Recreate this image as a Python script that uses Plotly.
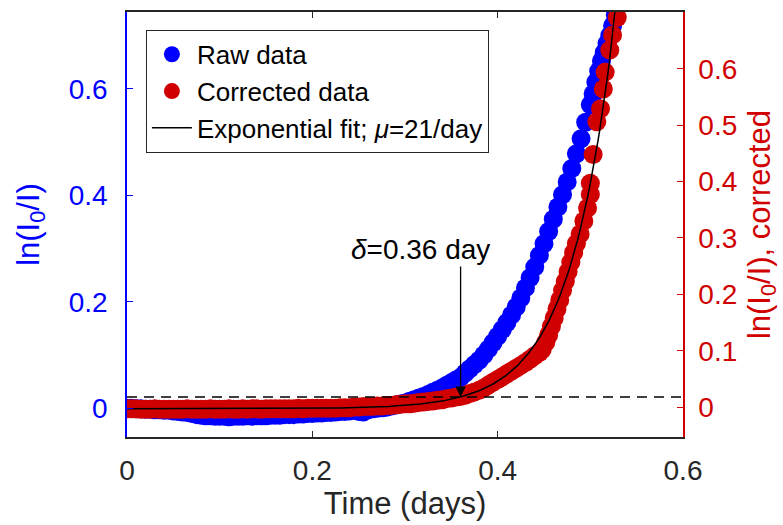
import plotly.graph_objects as go
import numpy as np

# ---------------- data ----------------
t_raw = [0.000, 0.005, 0.010, 0.015, 0.020, 0.025, 0.030, 0.035, 0.040, 0.045,
         0.050, 0.055, 0.060, 0.065, 0.070, 0.075, 0.080, 0.085, 0.090, 0.095,
         0.100, 0.105, 0.110, 0.115, 0.120, 0.125, 0.130, 0.135, 0.140, 0.145,
         0.150, 0.155, 0.160, 0.165, 0.170, 0.175, 0.180, 0.185, 0.190, 0.195,
         0.200, 0.205, 0.210, 0.215, 0.220, 0.225, 0.230, 0.235, 0.240, 0.245,
         0.250, 0.255, 0.260, 0.265, 0.270, 0.275, 0.280, 0.285, 0.290, 0.295,
         0.300, 0.305, 0.310, 0.315, 0.320, 0.325, 0.330, 0.335, 0.340, 0.345,
         0.350, 0.355, 0.360, 0.365, 0.370, 0.375, 0.380, 0.385, 0.390, 0.395,
         0.400, 0.405, 0.410, 0.415, 0.420, 0.425, 0.430, 0.435, 0.440, 0.445,
         0.450, 0.455, 0.460, 0.465, 0.470, 0.475, 0.480, 0.485, 0.490, 0.495,
         0.500, 0.503, 0.506, 0.509, 0.512, 0.515, 0.518, 0.521, 0.524, 0.527]
y_raw = [0.000, 0.000, -0.001, -0.001, -0.002, -0.002, -0.003, -0.003, -0.004, -0.004,
         -0.005, -0.006, -0.007, -0.008, -0.010, -0.012, -0.013, -0.014, -0.014, -0.015,
         -0.015, -0.015, -0.016, -0.015, -0.015, -0.015, -0.014, -0.015, -0.014, -0.014,
         -0.014, -0.013, -0.013, -0.013, -0.012, -0.012, -0.012, -0.011, -0.011, -0.010,
         -0.010, -0.009, -0.009, -0.008, -0.008, -0.007, -0.006, -0.006, -0.005, -0.004,
         -0.006, -0.007, -0.003, -0.001, 0.000, 0.001, 0.002, 0.004, 0.006, 0.008,
         0.010, 0.013, 0.016, 0.019, 0.022, 0.026, 0.030, 0.034, 0.038, 0.043,
         0.048, 0.053, 0.058, 0.066, 0.074, 0.082, 0.090, 0.100, 0.111, 0.123,
         0.135, 0.148, 0.161, 0.175, 0.190, 0.207, 0.226, 0.245, 0.265, 0.287,
         0.309, 0.332, 0.355, 0.378, 0.401, 0.425, 0.450, 0.478, 0.506, 0.537,
         0.570, 0.590, 0.612, 0.633, 0.652, 0.668, 0.685, 0.700, 0.718, 0.738]

t_cor = [0.000, 0.005, 0.010, 0.015, 0.020, 0.025, 0.030, 0.035, 0.040, 0.045,
         0.050, 0.055, 0.060, 0.065, 0.070, 0.075, 0.080, 0.085, 0.090, 0.095,
         0.100, 0.105, 0.110, 0.115, 0.120, 0.125, 0.130, 0.135, 0.140, 0.145,
         0.150, 0.155, 0.160, 0.165, 0.170, 0.175, 0.180, 0.185, 0.190, 0.195,
         0.200, 0.205, 0.210, 0.215, 0.220, 0.225, 0.230, 0.235, 0.240, 0.245,
         0.250, 0.255, 0.260, 0.265, 0.270, 0.275, 0.280, 0.285, 0.290, 0.295,
         0.300, 0.305, 0.310, 0.315, 0.320, 0.325, 0.330, 0.335, 0.340, 0.345,
         0.350, 0.355, 0.360, 0.365, 0.370, 0.375, 0.380, 0.385, 0.390, 0.395,
         0.400, 0.405, 0.410, 0.415, 0.420, 0.425, 0.430, 0.435, 0.440, 0.445,
         0.448, 0.452, 0.455, 0.458, 0.461, 0.464, 0.467, 0.470, 0.473, 0.476,
         0.479, 0.482, 0.485, 0.489, 0.493, 0.497, 0.500, 0.500, 0.503, 0.507,
         0.511, 0.514, 0.516, 0.521, 0.524, 0.529]
y_cor = [-0.003, -0.003, -0.003, -0.004, -0.004, -0.004, -0.003, -0.004, -0.004, -0.004,
         -0.004, -0.004, -0.004, -0.003, -0.004, -0.004, -0.004, -0.004, -0.003, -0.004,
         -0.004, -0.004, -0.003, -0.004, -0.004, -0.003, -0.004, -0.003, -0.003, -0.004,
         -0.003, -0.003, -0.003, -0.003, -0.003, -0.003, -0.003, -0.002, -0.003, -0.002,
         -0.002, -0.002, -0.002, -0.002, -0.002, -0.002, -0.001, -0.001, -0.001, 0.000,
         0.000, 0.001, 0.001, 0.001, 0.002, 0.002, 0.003, 0.003, 0.004, 0.005,
         0.006, 0.006, 0.007, 0.008, 0.009, 0.010, 0.011, 0.012, 0.013, 0.015,
         0.016, 0.018, 0.019, 0.021, 0.024, 0.027, 0.030, 0.034, 0.039, 0.044,
         0.049, 0.054, 0.059, 0.064, 0.069, 0.074, 0.079, 0.085, 0.091, 0.097,
         0.102, 0.115, 0.128, 0.143, 0.158, 0.174, 0.190, 0.207, 0.223, 0.240,
         0.257, 0.274, 0.290, 0.307, 0.330, 0.353, 0.377, 0.397, 0.448, 0.506,
         0.529, 0.564, 0.594, 0.633, 0.660, 0.691]

MU = 21.0          # growth rate of the exponential fit (1/day), from the legend
FIT_A = 1.1e-5     # fit amplitude
FIT_B = -0.003     # fit offset
DELTA = 0.36       # lag time (day)
THRESHOLD = 0.018  # dashed threshold level (corrected axis)

x_ticks = [0, 0.2, 0.4, 0.6]
y_ticks_left = [0, 0.2, 0.4, 0.6]
y_ticks_right = [0, 0.1, 0.2, 0.3, 0.4, 0.5, 0.6]

t_fit = np.linspace(0, 0.535, 300)
y_fit = FIT_A * np.exp(MU * t_fit) + FIT_B

BLUE = "#0000ff"
RED = "#d00000"
FONT = "Liberation Sans, Arial, sans-serif"

fig = go.Figure()
fig.add_trace(go.Scatter(x=t_raw, y=y_raw, mode="markers", name="Raw data",
                         marker=dict(color=BLUE, size=19, line=dict(width=0)),
                         yaxis="y"))
fig.add_trace(go.Scatter(x=t_cor, y=y_cor, mode="markers", name="Corrected data",
                         marker=dict(color=RED, size=19, line=dict(width=0)),
                         yaxis="y2"))
fig.add_trace(go.Scatter(x=t_fit, y=y_fit, mode="lines",
                         name="Exponential fit; <i>μ</i>=21/day",
                         line=dict(color="black", width=1.5), yaxis="y2"))
fig.add_trace(go.Scatter(x=[0, 0.6], y=[THRESHOLD, THRESHOLD], mode="lines",
                         showlegend=False,
                         line=dict(color="black", width=1.4, dash="10px,7px"),
                         yaxis="y2"))

fig.add_annotation(x=DELTA, y=THRESHOLD, xref="x", yref="y2", text="",
                   showarrow=True, ax=0, ay=-132, axref="pixel", ayref="pixel",
                   arrowhead=2, arrowsize=1.6, arrowwidth=1.3, arrowcolor="black",
                   standoff=0)
fig.add_annotation(x=0.3168, y=0.28, xref="x", yref="y2",
                   text="<i>δ</i>=0.36 day", showarrow=False,
                   font=dict(size=28, color="black", family=FONT),
                   xanchor="center", yanchor="middle")

fig.update_layout(
    width=783, height=525,
    margin=dict(l=127, r=100, t=10, b=88),
    paper_bgcolor="white", plot_bgcolor="white",
    font=dict(family=FONT, size=26, color="#262626"),
    showlegend=True,
    legend=dict(x=0.034, y=0.958, xanchor="left", yanchor="top",
                bgcolor="white", bordercolor="#262626", borderwidth=1,
                font=dict(size=26, color="black", family=FONT),
                itemwidth=40, tracegroupgap=0),
    xaxis=dict(range=[0, 0.6], tickvals=x_ticks, ticktext=["0", "0.2", "0.4", "0.6"],
               ticks="inside", ticklen=6, tickcolor="#262626", tickwidth=1.2,
               showline=True, linecolor="#262626", linewidth=1.5, mirror="ticks",
               showgrid=False, zeroline=False,
               tickfont=dict(size=28, color="#262626"), ticklabelstandoff=8,
               title=dict(text="Time (days)", font=dict(size=31, color="#262626"),
                          standoff=6)),
    yaxis=dict(range=[-0.054, 0.744], tickvals=y_ticks_left,
               ticktext=["0", "0.2", "0.4", "0.6"],
               ticks="inside", ticklen=6, tickcolor=BLUE, tickwidth=1.2,
               showline=True, linecolor=BLUE, linewidth=1.5,
               showgrid=False, zeroline=False,
               tickfont=dict(size=28, color=BLUE), ticklabelstandoff=12,
               title=dict(text="ln(I<sub>0</sub>/I)", font=dict(size=31, color=BLUE),
                          standoff=20)),
    yaxis2=dict(range=[-0.053, 0.7006], tickvals=y_ticks_right,
                ticktext=["0", "0.1", "0.2", "0.3", "0.4", "0.5", "0.6"],
                overlaying="y", side="right", anchor="x",
                ticks="inside", ticklen=6, tickcolor=RED, tickwidth=1.2,
                showline=True, linecolor=RED, linewidth=1.5,
                showgrid=False, zeroline=False,
                tickfont=dict(size=28, color=RED), ticklabelstandoff=8,
                title=dict(text="ln(I<sub>0</sub>/I), corrected",
                           font=dict(size=31, color=RED), standoff=12)),
)

fig.write_html("out.html")
